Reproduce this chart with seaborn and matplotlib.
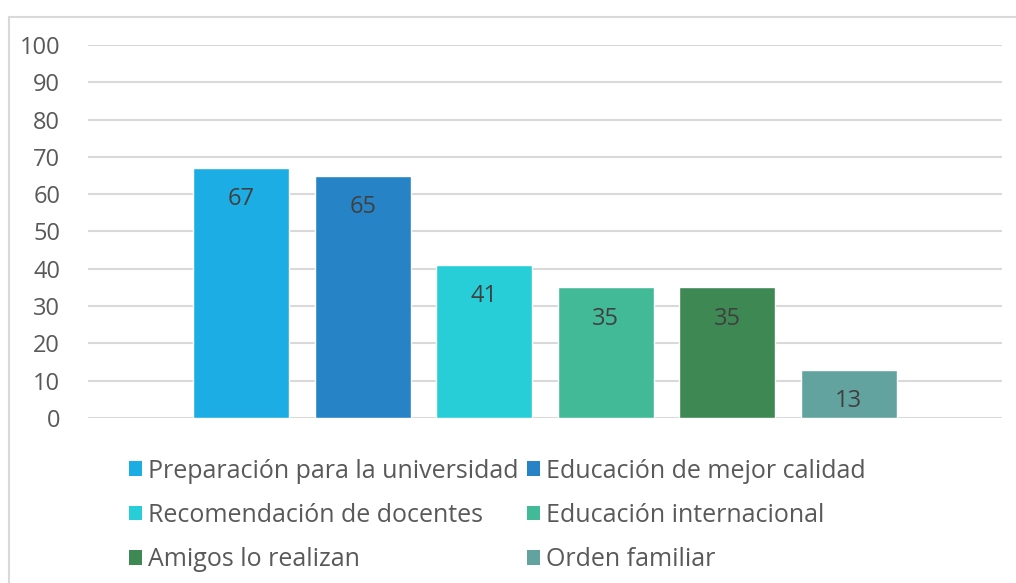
import pandas as pd
import seaborn as sns
import matplotlib.pyplot as plt
from matplotlib.patches import Rectangle, Patch

# Data
categories = [
    "Preparación para la universidad",
    "Educación de mejor calidad",
    "Recomendación de docentes",
    "Educación internacional",
    "Amigos lo realizan",
    "Orden familiar",
]
values = [67, 65, 41, 35, 35, 13]
colors = ["#1CADE4", "#2683C6", "#27CED7", "#42BA97", "#3E8853", "#62A39F"]
yticks = [0, 10, 20, 30, 40, 50, 60, 70, 80, 90, 100]

df = pd.DataFrame({"motivo": categories, "valor": values})

sns.set_theme(style="white")
plt.rcParams["font.family"] = ["Open Sans", "DejaVu Sans"]

W, H = 1016, 583
fig = plt.figure(figsize=(W / 100, H / 100), dpi=100)
ax = fig.add_axes([88 / W, 1 - 418 / H, (1002 - 88) / W, (418 - 45) / H])

sns.barplot(
    data=df, x="motivo", y="valor", hue="motivo", palette=colors,
    width=96 / 121.6, dodge=False, legend=False, ax=ax, saturation=1,
)

ax.set_ylim(0, 100)
ax.set_xlim(2.5 - 3.76, 2.5 + 3.76)
ax.set_yticks(yticks)
ax.set_yticklabels([str(t) for t in yticks], fontsize=17, color="#595959")
ax.set_xticks([])
ax.set_xlabel("")
ax.set_ylabel("")
ax.tick_params(axis="y", length=0, pad=20)
ax.yaxis.grid(True, color="#D9D9D9", linewidth=1.5)
ax.set_axisbelow(True)
for s in ax.spines.values():
    s.set_visible(False)

# data labels inside the top of bars
for container in ax.containers:
    ax.bar_label(container, label_type="edge", padding=-31,
                 fontsize=17, color="#404040")

# legend below the chart (row-major order like the original)
order = [0, 2, 4, 1, 3, 5]
handles = [Patch(facecolor=colors[i], edgecolor="none") for i in order]
labels = [categories[i] for i in order]
fig.legend(
    handles, labels, loc="upper left", bbox_to_anchor=(106 / W, 1 - 436 / H),
    ncol=2, frameon=False, fontsize=18, labelcolor="#595959",
    handlelength=0.52, handleheight=0.52, handletextpad=0.25,
    columnspacing=0.35, labelspacing=0.78,
)

# chart border
fig.add_artist(Rectangle((9 / W, -0.05), 1.1, 1 - 17 / H + 0.05,
                         transform=fig.transFigure, fill=False,
                         edgecolor="#D9D9D9", linewidth=1.5))

fig.savefig("out.png", dpi=100)
